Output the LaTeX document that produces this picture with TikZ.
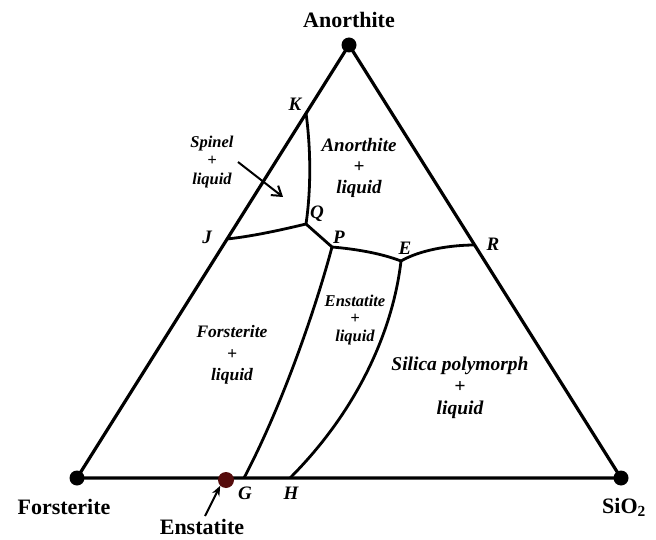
\documentclass[tikz,border=0pt]{standalone}
\usepackage{fontspec}
\setmainfont{Liberation Serif}
\usetikzlibrary{arrows.meta}
\definecolor{enstdot}{RGB}{85,12,12}
\begin{document}
\begin{tikzpicture}[x=1pt,y=-1pt,
  edge/.style={line width=3.2pt},
  bnd/.style={line width=2.8pt},
  vert/.style={circle, fill=black, inner sep=0pt, minimum size=15pt},
  ptlab/.style={font=\fontsize{19}{19}\selectfont\bfseries\itshape, inner sep=0pt},
  mlab/.style={font=\fontsize{22}{22}\selectfont\bfseries, inner sep=0pt},
  reg/.style={align=center, inner sep=0pt},
  pointer/.style={line width=2pt}]
\useasboundingbox (0,0) rectangle (656,540);
% vertices
\coordinate (A) at (349,45);
\coordinate (F) at (77,478);
\coordinate (S) at (621,478);
\coordinate (K) at (306,113);
\coordinate (Q) at (306,224);
\coordinate (J) at (227,239);
\coordinate (P) at (332,247);
\coordinate (E) at (401,261);
\coordinate (R) at (475,245);
\coordinate (G) at (244,478);
\coordinate (H) at (290,478);
% triangle
\draw[edge, line join=miter] (A) -- (F) -- (S) -- cycle;
% boundaries
\draw[bnd] (K) .. controls (311,150) and (311,190) .. (Q);
\draw[bnd] (J) .. controls (255,236) and (285,229) .. (Q);
\draw[bnd] (Q) -- (P);
\draw[bnd] (P) .. controls (355,249) and (380,253) .. (E);
\draw[bnd] (E) .. controls (420,250) and (450,245) .. (R);
\draw[bnd] (P) .. controls (318,300) and (285,400) .. (G);
\draw[bnd] (E) .. controls (393,330) and (358,410) .. (H);
% dots
\node[vert] (An) at (A) {};
\node[vert] (Fo) at (F) {};
\node[vert] (Si) at (S) {};
\node[vert, fill=enstdot, minimum size=16pt] (En) at (226,480) {};
% vertex labels
\node[mlab] (lAn) at (349,20) {Anorthite};
\node[mlab] (lFo) at (64,507) {Forsterite};
\node[mlab] (lSi) at (624,507) {SiO$_{\mathbf 2}$};
\node[mlab, anchor=base] (lEn) at (202,534) {Enstatite};
\coordinate (enA) at (205,516);
\draw[pointer, -{Stealth[length=10pt,width=8pt]}] (enA) -- (En.south west);
% point labels
\node[ptlab] (lK) at (295,104) {K};
\node[ptlab] (lQ) at (317,214) {Q};
\node[ptlab] (lJ) at (207,237) {J};
\node[ptlab] (lP) at (339,237) {P};
\node[ptlab] (lE) at (405,248) {E};
\node[ptlab] (lR) at (493,244) {R};
\node[ptlab] (lG) at (245,493) {G};
\node[ptlab] (lH) at (291,493) {H};
% region labels
\node[reg, font=\fontsize{16.5}{18.5}\selectfont\bfseries\itshape] (rSp) at (212,162) {Spinel\\+\\liquid};
\coordinate (spA) at (238,162);
\coordinate (spB) at (283,197);
\draw[pointer, -{Straight Barb[length=9pt,width=12pt]}] (spA) -- (spB);
\node[reg, font=\fontsize{19}{21}\selectfont\bfseries\itshape] (rAn) at (359,168) {Anorthite\\+\\liquid};
\node[reg, font=\fontsize{16.5}{17.5}\selectfont\bfseries\itshape] (rEn) at (355,320) {Enstatite\\+\\liquid};
\node[reg, font=\fontsize{17.5}{21.5}\selectfont\bfseries\itshape] (rFo) at (232,355) {Forsterite\\+\\liquid};
\node[reg, font=\fontsize{19.5}{22}\selectfont\bfseries\itshape] (rSi) at (460,388) {Silica polymorph\\+\\liquid};
\end{tikzpicture}
\end{document}
